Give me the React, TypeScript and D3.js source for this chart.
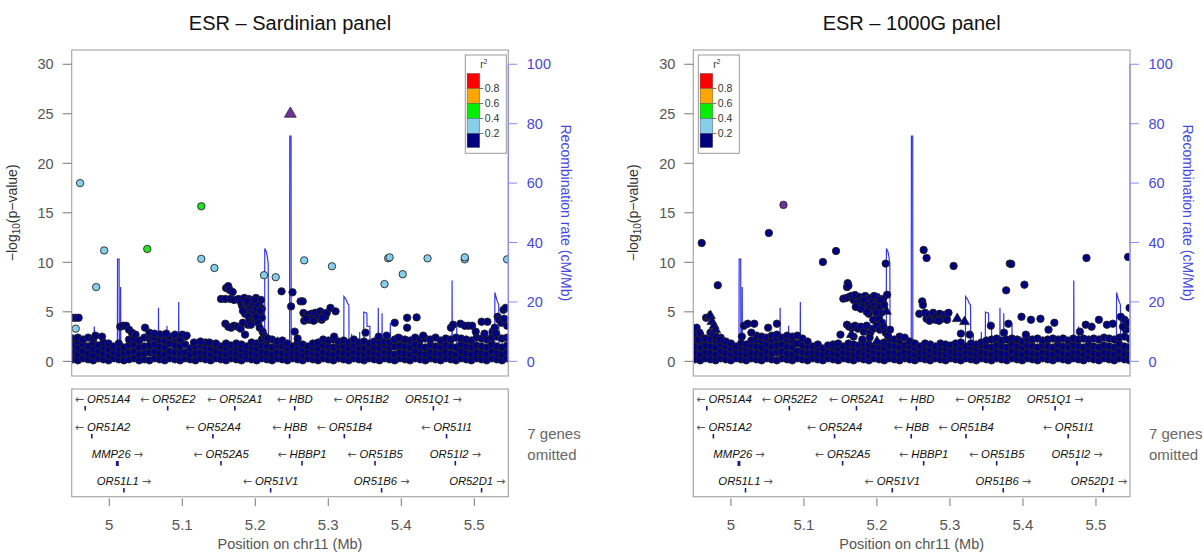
import React from 'react';
import * as d3 from 'd3';

const W = 1204, H = 555;
const DOMAIN: [number, number] = [4.9485, 5.5466];
const xTicks = [5, 5.1, 5.2, 5.3, 5.4, 5.5];
const yTicks = [0, 5, 10, 15, 20, 25, 30];
const recTicks = [0, 20, 40, 60, 80, 100];
const legendBreaks = ['0.8', '0.6', '0.4', '0.2'];
const legendColors = ['#FF0000', '#FFA500', '#00EE00', '#87CEEB', '#000080'];
const titles = ['ESR \u2013 Sardinian panel', 'ESR \u2013 1000G panel'];

// recombination rate (cM/Mb) by position (Mb)
const recombRate: [number, number][] = [
  [4.9485,1.2],[4.960,0.8],[4.970,1.5],[4.978,1.0],[4.9795,11.7],[4.9805,1.0],[4.995,1.6],[5.005,0.8],
  [5.0110,0.9],[5.0113,34.4],[5.0134,34.4],[5.0137,1.5],[5.0152,1.5],[5.0155,25],[5.0158,1.2],[5.030,2.0],
  [5.045,1.0],[5.060,1.4],[5.0672,1.2],[5.0674,18],[5.0677,1.0],[5.0788,1.0],[5.079,12],[5.0793,1.1],
  [5.0948,1.2],[5.0951,20],[5.0954,1.0],[5.110,1.8],[5.130,1.0],[5.150,1.3],[5.170,0.8],[5.190,1.5],
  [5.205,1.0],[5.2128,1.2],[5.2130,38],[5.2150,37],[5.2166,35],[5.2177,33],[5.2180,1.5],[5.2245,1.5],
  [5.2248,8.4],[5.2252,1.5],[5.2305,1.2],[5.2308,8.4],[5.2312,1.0],[5.240,1.2],[5.2470,1.0],[5.2472,75.8],
  [5.2490,75.8],[5.2492,1.0],[5.260,1.5],[5.280,0.8],[5.300,1.6],[5.315,1.0],[5.3212,1.2],[5.3214,21.8],
  [5.3240,21.0],[5.3266,19.4],[5.3282,19.0],[5.3285,1.2],[5.3318,1.0],[5.332,9.3],[5.3323,1.0],[5.3428,1.0],
  [5.343,9.9],[5.3433,1.2],[5.3484,1.0],[5.3486,16.6],[5.3528,16.2],[5.3531,11.8],[5.3570,11.8],[5.3573,1.2],
  [5.3683,1.0],[5.3685,18],[5.3688,1.2],[5.3735,1.1],[5.3737,16.2],[5.374,1.0],[5.3848,1.2],[5.385,12.9],
  [5.3853,1.0],[5.3968,1.0],[5.397,8.4],[5.3973,1.2],[5.4128,1.0],[5.413,7.3],[5.4133,1.0],[5.430,1.5],
  [5.450,1.0],[5.4694,1.2],[5.4696,27.2],[5.4699,1.0],[5.4758,1.0],[5.476,11.7],[5.4763,1.2],[5.500,1.5],
  [5.520,1.0],[5.5280,1.2],[5.5282,23.2],[5.5308,20.7],[5.5335,19.0],[5.5338,1.2],[5.5438,1.0],[5.544,8.4],
  [5.5443,1.0],[5.5466,1.2]
];

// genes: name, position (Mb), row, direction, width (Mb)
const geneNames = ['OR51A4','OR52E2','OR52A1','HBD','OR51B2','OR51Q1','OR51A2','OR52A4','HBB','OR51B4','OR51I1','MMP26','OR52A5','HBBP1','OR51B5','OR51I2','OR51L1','OR51V1','OR51B6','OR52D1'];
const genePos = [4.967,5.080,5.172,5.254,5.345,5.444,4.976,5.142,5.247,5.322,5.462,5.011,5.153,5.264,5.364,5.474,5.020,5.221,5.373,5.510];
const geneRow = [0,0,0,0,0,0,1,1,1,1,1,2,2,2,2,2,3,3,3,3];
const geneDir = [-1,-1,-1,-1,-1,1,-1,-1,-1,-1,-1,1,-1,-1,-1,1,1,-1,1,1];
const geneWidth = [0,0,0,0,0,0,0,0,0,0,0,0.004,0,0,0,0,0,0,0,0];

// ---- Sardinian panel ----
const sardBand: [number, number[]][] = [
  [4.950,[0.2,0.9,1.6,2.3]],[4.957,[0.1,0.7,1.3,2.0,2.4]],[4.964,[0.3,1.0,1.7,2.2]],[4.971,[0.2,0.8,1.5,2.4]],
  [4.978,[0.1,0.6,1.2,1.9,2.3]],[4.985,[0.3,1.0,1.6]],[4.992,[0.2,0.8,1.4,1.9]],[4.999,[0.1,0.6,1.2,1.8]],
  [5.006,[0.3,0.9,1.5]],[5.013,[0.2,0.7,1.3,1.8]],[5.020,[0.1,0.8,1.4]],[5.027,[0.2,0.9,1.6,2.2]],
  [5.034,[0.3,1.0,1.7,2.3]],[5.041,[0.1,0.7,1.4,2.1]],[5.048,[0.2,0.8,1.5,2.4]],[5.055,[0.1,0.9,1.6,2.3,2.6]],
  [5.062,[0.3,1.0,1.7,2.4]],[5.069,[0.2,0.8,1.5,2.2,2.7]],[5.076,[0.1,0.7,1.4,2.1,2.6]],[5.083,[0.3,1.0,1.8,2.5]],
  [5.090,[0.2,0.9,1.6,2.3,2.6]],[5.097,[0.1,0.8,1.5,2.2]],[5.104,[0.3,0.9,1.7,2.5]],[5.111,[0.2,0.7,1.3]],
  [5.118,[0.1,0.8,1.5]],[5.125,[0.3,0.9,1.6]],[5.132,[0.2,0.8,1.4,1.9]],[5.139,[0.1,0.7,1.3,1.8]],
  [5.146,[0.3,1.0,1.6]],[5.153,[0.2,0.8,1.5]],[5.160,[0.1,0.7,1.3,1.8]],[5.167,[0.3,0.9,1.6]],
  [5.174,[0.2,0.8,1.4,1.8]],[5.181,[0.1,0.6,1.2,1.7]],[5.188,[0.3,0.9,1.5]],[5.195,[0.2,0.8,1.4,1.9]],
  [5.202,[0.1,0.7,1.3,1.8]],[5.209,[0.3,0.9,1.6,2.2]],[5.216,[0.2,0.8,1.5,2.1]],[5.223,[0.1,0.7,1.4,2.2]],
  [5.230,[0.3,0.9,1.6,2.0]],[5.237,[0.2,0.8,1.5,2.1]],[5.244,[0.1,0.7,1.3,1.8]],[5.251,[0.3,0.9,1.5]],
  [5.258,[0.2,0.8,1.4,1.9]],[5.265,[0.1,0.6,1.2,1.7]],[5.272,[0.3,0.9,1.5]],[5.279,[0.2,0.8,1.4,1.8]],
  [5.286,[0.1,0.7,1.3,1.9]],[5.293,[0.3,0.9,1.6,2.2]],[5.300,[0.2,0.8,1.5,2.1]],[5.307,[0.1,0.7,1.4,2.2]],
  [5.314,[0.3,0.9,1.6,2.0]],[5.321,[0.2,0.8,1.5,2.1]],[5.328,[0.1,0.7,1.3,1.9]],[5.335,[0.3,0.9,1.6,2.2]],
  [5.342,[0.2,0.8,1.4,1.9]],[5.349,[0.1,0.7,1.3,2.0]],[5.356,[0.3,0.9,1.5,1.8]],[5.363,[0.2,0.8,1.4,2.0]],
  [5.370,[0.1,0.7,1.3,1.9]],[5.377,[0.3,0.9,1.6,2.0]],[5.384,[0.2,0.8,1.4,1.9]],[5.391,[0.1,0.7,1.5,2.2]],
  [5.398,[0.3,0.9,1.6,2.3]],[5.405,[0.2,0.8,1.5,2.2]],[5.412,[0.1,0.7,1.4,2.1]],[5.419,[0.3,1.0,1.7,2.4]],
  [5.426,[0.2,0.8,1.5,2.2]],[5.433,[0.1,0.7,1.4,2.3]],[5.440,[0.3,0.9,1.6,2.2]],[5.447,[0.2,0.8,1.5,2.4]],
  [5.454,[0.1,0.7,1.4,2.1]],[5.461,[0.3,0.9,1.6,2.3]],[5.468,[0.2,0.8,1.5,2.2]],[5.475,[0.1,0.7,1.4,2.4]],
  [5.482,[0.3,1.0,1.7,2.3]],[5.489,[0.2,0.8,1.5,2.2]],[5.496,[0.1,0.7,1.4,2.1]],[5.503,[0.3,0.9,1.6,2.4]],
  [5.510,[0.2,0.8,1.5,2.3]],[5.517,[0.1,0.7,1.4,2.2]],[5.524,[0.3,1.0,1.7,2.4]],[5.531,[0.2,0.8,1.5,2.5]],
  [5.538,[0.1,0.7,1.4,2.3]],[5.545,[0.3,0.9,1.6,2.4]]
];
const sardNavy: [number, number][] = [
  [4.950,4.4],[4.954,4.4],[4.958,4.4],[4.981,2.6],[4.990,2.5],
  [5.015,3.5],[5.019,3.6],[5.023,3.6],[5.027,3.2],[5.031,2.9],[5.036,2.7],
  [5.049,3.4],[5.055,2.9],[5.062,2.8],[5.070,2.7],[5.078,2.8],[5.090,2.7],[5.100,2.7],[5.106,2.6],
  [5.116,1.9],[5.125,2.0],[5.137,1.9],[5.146,1.8],
  [5.153,6.3],[5.159,6.3],[5.160,7.4],[5.163,7.6],[5.165,7.2],[5.166,6.3],[5.169,7.0],[5.171,6.2],
  [5.159,3.8],[5.163,3.5],[5.167,3.4],[5.171,3.6],[5.176,3.5],[5.180,3.3],[5.183,3.9],[5.186,2.7],[5.190,3.7],
  [5.177,6.3],[5.180,6.0],[5.182,5.6],[5.185,6.4],[5.187,5.8],[5.189,5.2],[5.191,6.3],[5.193,5.5],[5.194,4.9],
  [5.196,6.1],[5.198,5.7],[5.199,5.0],[5.201,6.4],[5.202,5.3],[5.203,4.6],[5.205,6.0],[5.206,5.6],[5.207,4.9],
  [5.208,6.2],[5.209,5.3],[5.209,4.4],[5.186,4.8],[5.191,4.5],[5.197,4.3],[5.200,4.1],[5.204,3.9],[5.188,5.9],
  [5.183,5.1],[5.192,4.0],[5.195,5.9],[5.203,5.8],[5.207,5.1],[5.189,6.1],[5.199,6.2],
  [5.194,3.7],[5.201,4.5],[5.206,3.4],[5.210,3.0],[5.212,2.6],[5.214,2.4],[5.217,2.3],
  [5.236,7.07],[5.249,5.55],[5.251,6.97],[5.254,3.0],[5.262,6.06],[5.265,6.06],[5.258,2.3],
  [5.266,4.88],[5.267,4.1],[5.269,4.6],[5.272,4.7],[5.274,4.2],[5.277,4.8],[5.279,4.4],[5.282,4.9],[5.284,4.3],
  [5.287,4.6],[5.289,5.05],[5.291,4.2],[5.294,4.8],[5.296,4.5],[5.298,4.9],[5.270,4.3],[5.280,4.1],[5.292,4.4],
  [5.303,5.4],[5.310,5.05],[5.308,2.5],
  [5.351,2.9],[5.369,2.5],[5.380,2.6],[5.391,3.9],[5.408,3.4],[5.408,4.4],[5.421,4.44],[5.396,2.4],[5.430,2.6],
  [5.468,3.4],[5.471,3.7],[5.481,3.8],[5.487,3.6],[5.492,3.6],[5.497,3.6],[5.502,3.0],
  [5.510,4.0],[5.518,4.0],[5.514,2.8],
  [5.525,3.0],[5.528,3.4],[5.532,4.5],[5.534,4.2],[5.537,3.9],[5.540,5.2],[5.543,5.4],[5.545,3.6],[5.541,4.3],[5.530,2.8]
];
const sardSky: [number, number][] = [
  [4.960,18.0],[4.954,3.3],[4.982,7.5],[4.993,11.2],[5.126,10.35],[5.144,9.43],[5.212,8.7],[5.228,8.5],
  [5.267,10.2],[5.305,9.6],[5.377,7.8],[5.382,10.4],[5.384,10.5],[5.402,8.8],[5.436,10.4],[5.487,10.3],
  [5.487,10.5],[5.545,10.3]
];
const sardGreen: [number, number][] = [[5.052,11.35],[5.126,15.66]];
const sardLead: [number, number][] = [[5.248,25.0]];

// ---- 1000G panel ----
const kgBand: [number, number[]][] = [
  [4.951,[0.2,0.8,1.5,2.2,2.8]],[4.958,[0.1,0.7,1.4,2.1,2.7]],[4.965,[0.3,0.9,1.6,2.3]],[4.972,[0.2,0.8,1.5,2.2,2.9]],
  [4.979,[0.1,0.7,1.4,2.1,2.6]],[4.986,[0.3,1.0,1.7,2.4]],[4.993,[0.2,0.8,1.5,2.0]],[5.000,[0.1,0.7,1.3,1.8]],
  [5.007,[0.3,0.9,1.5]],[5.014,[0.2,0.8,1.4,1.8]],[5.021,[0.1,0.7,1.3,1.7]],[5.028,[0.3,0.9,1.6,2.1]],
  [5.035,[0.2,0.8,1.5,2.2,2.6]],[5.042,[0.1,0.7,1.4,2.1,2.5]],[5.049,[0.3,1.0,1.7,2.4]],[5.056,[0.2,0.8,1.5,2.2,2.6]],
  [5.063,[0.1,0.9,1.6,2.3,2.7]],[5.070,[0.3,1.0,1.7,2.4]],[5.077,[0.2,0.8,1.5,2.2,2.6]],[5.084,[0.1,0.7,1.4,2.1,2.5]],
  [5.091,[0.3,1.0,1.8,2.6]],[5.098,[0.2,0.9,1.6,2.3]],[5.105,[0.1,0.8,1.5,2.0]],[5.112,[0.3,0.9,1.5]],
  [5.119,[0.2,0.8,1.4,1.7]],[5.126,[0.1,0.7,1.3]],[5.133,[0.3,0.9,1.6]],[5.140,[0.2,0.8,1.4,1.7]],
  [5.147,[0.1,0.7,1.3,1.8]],[5.154,[0.3,0.9,1.5]],[5.161,[0.2,0.8,1.4,1.8]],[5.168,[0.1,0.7,1.3,1.7]],
  [5.175,[0.3,0.9,1.6]],[5.182,[0.2,0.8,1.4,1.8]],[5.189,[0.1,0.6,1.2,1.7]],[5.196,[0.3,0.9,1.5]],
  [5.203,[0.2,0.8,1.4,1.8]],[5.210,[0.1,0.7,1.3,1.9]],[5.217,[0.3,0.9,1.6,2.3]],[5.224,[0.2,0.8,1.5,2.2]],
  [5.231,[0.1,0.7,1.4,2.1,2.5]],[5.238,[0.3,0.9,1.6,2.4]],[5.245,[0.2,0.8,1.5,2.0]],[5.252,[0.1,0.7,1.3,1.8]],
  [5.259,[0.3,0.9,1.5]],[5.266,[0.2,0.8,1.4,1.8]],[5.273,[0.1,0.6,1.2,1.7]],[5.280,[0.3,0.9,1.5]],
  [5.287,[0.2,0.8,1.4,1.8]],[5.294,[0.1,0.7,1.3,1.7]],[5.301,[0.3,0.9,1.6]],[5.308,[0.2,0.8,1.4,1.8]],
  [5.315,[0.1,0.7,1.3,1.9]],[5.322,[0.3,0.9,1.5]],[5.329,[0.2,0.8,1.4,1.8]],[5.336,[0.1,0.7,1.3,1.7]],
  [5.343,[0.3,0.9,1.6,1.9]],[5.350,[0.2,0.8,1.5,2.1]],[5.357,[0.1,0.7,1.4,2.2]],[5.364,[0.3,0.9,1.6,2.3]],
  [5.371,[0.2,0.8,1.5,2.1]],[5.378,[0.1,0.7,1.4,2.2]],[5.385,[0.3,1.0,1.7,2.3]],[5.392,[0.2,0.8,1.5,2.2]],
  [5.399,[0.1,0.7,1.4,2.0]],[5.406,[0.3,0.9,1.6,2.3]],[5.413,[0.2,0.8,1.5,2.2]],[5.420,[0.1,0.7,1.4,2.3]],
  [5.427,[0.3,0.9,1.6,2.1]],[5.434,[0.2,0.8,1.5,2.2]],[5.441,[0.1,0.7,1.4,2.3]],[5.448,[0.3,1.0,1.7,2.2]],
  [5.455,[0.2,0.8,1.5,2.3]],[5.462,[0.1,0.7,1.4,2.1]],[5.469,[0.3,0.9,1.6,2.3]],[5.476,[0.2,0.8,1.5,2.2]],
  [5.483,[0.1,0.7,1.4,2.3]],[5.490,[0.3,1.0,1.7,2.2]],[5.497,[0.2,0.8,1.5,2.3]],[5.504,[0.1,0.7,1.4,2.2]],
  [5.511,[0.3,0.9,1.6,2.4]],[5.518,[0.2,0.8,1.5,2.3]],[5.525,[0.1,0.7,1.4,2.2]],[5.532,[0.3,1.0,1.7,2.4]],
  [5.539,[0.2,0.8,1.5,2.5]],[5.546,[0.1,0.7,1.4,2.3]]
];
const kgNavy: [number, number][] = [
  [4.960,11.95],[4.982,7.68],[5.052,12.96],[5.126,10.03],[5.144,11.14],[5.212,9.87],[5.214,6.73],[5.264,11.25],
  [5.268,10.44],[5.305,9.63],[5.377,7.17],[5.382,9.87],[5.384,9.83],[5.402,7.74],[5.487,10.44],[5.544,10.54],
  [4.953,3.4],[4.955,2.2],[4.957,2.9],[4.966,4.4],[4.975,2.8],[4.980,2.4],[4.985,2.2],
  [5.015,2.5],[5.018,3.6],[5.023,3.8],[5.032,3.8],[5.028,2.9],[5.051,3.4],[5.063,3.8],
  [5.150,2.7],[5.159,7.5],[5.160,7.9],[5.161,7.64],[5.154,6.33],[5.158,6.4],[5.162,6.5],
  [5.165,6.6],[5.168,6.2],[5.170,6.7],[5.173,5.9],[5.176,6.5],[5.178,6.1],[5.181,5.7],[5.184,6.6],[5.186,6.3],
  [5.188,5.8],[5.190,5.4],[5.192,6.4],[5.194,6.0],[5.196,5.6],[5.198,5.2],[5.200,6.5],[5.202,6.1],[5.204,5.5],
  [5.206,4.9],[5.208,6.3],[5.210,5.7],[5.189,4.8],[5.195,4.2],[5.199,4.9],[5.203,4.3],[5.207,3.9],[5.186,5.0],
  [5.178,5.3],[5.182,6.2],[5.196,6.6],[5.204,6.2],[5.171,5.5],
  [5.159,3.7],[5.162,3.5],[5.166,3.4],[5.170,3.6],[5.174,3.3],[5.178,3.5],[5.182,3.0],[5.186,3.6],[5.191,2.9],
  [5.195,3.3],[5.200,3.6],[5.204,3.2],[5.209,3.5],[5.168,2.5],[5.180,2.2],[5.190,2.4],
  [5.212,2.9],[5.215,2.6],[5.218,3.2],[5.262,6.06],[5.263,5.7],[5.258,4.8],
  [5.266,4.9],[5.268,4.3],[5.271,4.7],[5.274,4.4],[5.277,4.9],[5.280,4.2],[5.283,4.6],[5.286,4.8],[5.289,4.3],
  [5.292,4.7],[5.295,4.5],[5.298,4.9],[5.272,4.1],[5.285,4.1],[5.296,4.2],
  [5.315,2.8],[5.327,2.7],[5.356,3.6],[5.374,2.9],[5.380,3.8],[5.398,4.5],[5.404,2.7],[5.411,4.2],[5.424,4.3],
  [5.435,3.2],[5.443,3.9],[5.478,3.0],[5.486,3.7],[5.494,3.5],[5.504,4.2],[5.515,3.7],[5.523,3.8],
  [5.534,4.5],[5.539,4.2],[5.541,3.2],[5.546,5.4],[5.537,3.5],[5.544,3.9]
];
const kgNavyTri: [number, number][] = [
  [4.970,4.5],[4.972,4.6],[4.974,4.0],[4.977,3.6],[4.979,3.2],[5.165,2.7],[5.213,5.05],[5.200,2.0],[5.310,4.3],[5.320,4.0]
];
const kgLead: [number, number][] = [[5.072,15.8]];

type Mark = { p: number; v: number; fill: string; shape: 'c' | 't'; size: number };

const band = (b: [number, number[]][]) => b.flatMap(([p, vs]) => vs.map((v) => [p, v] as [number, number]));
const marks = (pts: [number, number][], fill: string, shape: 'c' | 't', size: number): Mark[] =>
  pts.map(([p, v]) => ({ p, v, fill, shape, size }));

const panels = [
  {
    title: titles[0], x0: 71.7, x1: 508.3, legendLeft: false,
    marks: [
      ...marks(band(sardBand), '#000080', 'c', 3.7),
      ...marks(sardNavy, '#000080', 'c', 3.7),
      ...marks(sardSky, '#87CEEB', 'c', 3.7),
      ...marks(sardGreen, '#22E622', 'c', 3.7),
      ...marks(sardLead, '#7030A0', 't', 60),
    ],
  },
  {
    title: titles[1], x0: 693.3, x1: 1130, legendLeft: true,
    marks: [
      ...marks(band(kgBand), '#000080', 'c', 3.7),
      ...marks(kgNavy, '#000080', 'c', 3.7),
      ...marks(kgNavyTri, '#000080', 't', 42),
      ...marks(kgLead, '#7030A0', 'c', 3.7),
    ],
  },
];

let canvas: HTMLCanvasElement | null = null;
function measure(text: string, font: string) {
  if (!canvas) canvas = document.createElement('canvas');
  const ctx = canvas.getContext('2d')!;
  ctx.font = font;
  return ctx.measureText(text).width;
}

const FONT = '"Liberation Sans", Arial, Helvetica, sans-serif';
const ARROW_FONT = '"DejaVu Sans", sans-serif';
const TOP = 50, BOT = 376;
const GTOP = 389, GBOT = 496.7;
const rowLabelY = [403.3, 430.7, 458, 485];
const rowMarkY = [406, 434, 461, 488];

function Panel({ cfg, idx }: { cfg: typeof panels[number]; idx: number }) {
  const { x0, x1 } = cfg;
  const x = d3.scaleLinear().domain(DOMAIN).range([x0, x1]);
  const y = d3.scaleLinear().domain([-1.48, 31.44]).range([BOT, TOP]);
  const yr = d3.scaleLinear().domain([0, 100]).range([y(0), y(30)]);
  const line = d3.line<[number, number]>().x((d) => x(d[0])).y((d) => yr(d[1]))(recombRate) || '';
  const clipId = `clip${idx}`;
  const gclipId = `gclip${idx}`;
  const recColor = '#4646e6';
  const lx = cfg.legendLeft ? x0 + 5 : x1 - 43;
  const cy = (y(0) + y(30)) / 2;
  const labelFontItalic = `italic 11.3px ${FONT}`;
  const arrowFont = `11px ${ARROW_FONT}`;
  return (
    <g>
      <text x={(x0 + x1) / 2} y={30} textAnchor="middle" fontSize={20} fill="#111">{cfg.title}</text>
      <defs>
        <clipPath id={clipId}><rect x={x0} y={TOP} width={x1 - x0} height={BOT - TOP} /></clipPath>
        <clipPath id={gclipId}><rect x={x0} y={GTOP} width={x1 - x0} height={GBOT - GTOP} /></clipPath>
      </defs>
      <g clipPath={`url(#${clipId})`}>
        <path d={line} fill="none" stroke="#3535ee" strokeWidth={1.2} />
        {cfg.marks.map((m, i) =>
          m.shape === 'c' ? (
            <circle key={i} cx={x(m.p)} cy={y(m.v)} r={m.size} fill={m.fill} stroke="#262626" strokeWidth={0.9} />
          ) : (
            <path key={i} transform={`translate(${x(m.p)},${y(m.v)})`} d={d3.symbol(d3.symbolTriangle, m.size)() || ''} fill={m.fill} stroke="#262626" strokeWidth={0.8} />
          )
        )}
      </g>
      <rect x={x0} y={TOP} width={x1 - x0} height={BOT - TOP} fill="none" stroke="#a8a8a8" strokeWidth={1.2} />
      {/* left axis */}
      {yTicks.map((t) => (
        <g key={t}>
          <line x1={x0 - 9} x2={x0} y1={y(t)} y2={y(t)} stroke="#777" strokeWidth={1} />
          <text x={x0 - 18} y={y(t)} dy="0.36em" textAnchor="end" fontSize={14.5} fill="#555">{t}</text>
        </g>
      ))}
      <text transform={`translate(${x0 - 55},${cy}) rotate(-90)`} textAnchor="middle" fontSize={14} fill="#333">
        {'\u2212log'}<tspan fontSize={10} dy={3}>10</tspan><tspan dy={-3}>{'(p\u2212value)'}</tspan>
      </text>
      {/* right axis */}
      <line x1={x1} x2={x1} y1={yr(0)} y2={yr(100)} stroke="#8a8af0" strokeWidth={1.2} />
      {recTicks.map((t) => (
        <g key={t}>
          <line x1={x1} x2={x1 + 9} y1={yr(t)} y2={yr(t)} stroke="#8a8af0" strokeWidth={1} />
          <text x={x1 + 18.5} y={yr(t)} dy="0.36em" textAnchor="start" fontSize={14.5} fill={recColor}>{t}</text>
        </g>
      ))}
      <text transform={`translate(${x1 + 53},${cy}) rotate(90)`} textAnchor="middle" fontSize={14} fill={recColor}>
        Recombination rate (cM/Mb)
      </text>
      {/* legend */}
      <g>
        <rect x={lx} y={55} width={41} height={98.3} fill="#fff" stroke="#999" strokeWidth={1} />
        <text x={lx + 18.5} y={68} textAnchor="middle" fontSize={10} fill="#333">
          r<tspan fontSize={7} dy={-4}>2</tspan>
        </text>
        {legendColors.map((c, i) => (
          <rect key={c} x={lx + 1.8} y={73.5 + i * 15} width={12.6} height={i === 4 ? 14 : 15} fill={c} stroke="#444" strokeWidth={0.4} />
        ))}
        {legendBreaks.map((b, i) => (
          <g key={b}>
            <line x1={lx + 14.4} x2={lx + 18} y1={88.5 + i * 15} y2={88.5 + i * 15} stroke="#555" strokeWidth={0.8} />
            <text x={lx + 19.5} y={88.5 + i * 15} dy="0.36em" fontSize={10.5} fill="#333">{b}</text>
          </g>
        ))}
      </g>
      {/* genes */}
      <rect x={x0} y={GTOP} width={x1 - x0} height={GBOT - GTOP} fill="none" stroke="#a8a8a8" strokeWidth={1.2} />
      <g clipPath={`url(#${gclipId})`}>
        {geneNames.map((name, i) => {
          const gx = x(genePos[i]);
          const left1 = geneDir[i] < 0;
          const arrow = '\u2190';
          const arrowR = '\u2192';
          const gap = 3;
          const wName = measure(name, labelFontItalic);
          const wArrow = measure(left1 ? arrow : arrowR, arrowFont);
          const w = wName + wArrow + gap;
          let left = gx - w / 2;
          if (left < x0 + 3) left = x0 + 3;
          if (left + w > x1 - 3) left = x1 - 3 - w;
          const gw = Math.max(1.6, x(genePos[i] + geneWidth[i]) - gx);
          const row = geneRow[i];
          const ly = rowLabelY[row];
          return (
            <g key={name}>
              {left1 ? (
                <>
                  <text x={left} y={ly} fontSize={11} fill="#555" fontFamily={ARROW_FONT}>{arrow}</text>
                  <text x={left + wArrow + gap} y={ly} fontSize={11.3} fill="#111" fontStyle="italic">{name}</text>
                </>
              ) : (
                <>
                  <text x={left} y={ly} fontSize={11.3} fill="#111" fontStyle="italic">{name}</text>
                  <text x={left + wName + gap} y={ly} fontSize={11} fill="#555" fontFamily={ARROW_FONT}>{arrowR}</text>
                </>
              )}
              <rect x={gx - gw / 2} y={rowMarkY[row]} width={gw} height={geneWidth[i] > 0 ? 5 : 4.5} fill="#1a1a8a" />
            </g>
          );
        })}
      </g>
      <text x={x1 + 19} y={433.5} dy="0.36em" fontSize={15} fill="#666">7 genes</text>
      <text x={x1 + 19} y={454.5} dy="0.36em" fontSize={15} fill="#666">omitted</text>
      {xTicks.map((t) => (
        <g key={t}>
          <line x1={x(t)} x2={x(t)} y1={GBOT + 1.5} y2={506} stroke="#777" strokeWidth={1} />
          <text x={x(t)} y={525} dy="0.36em" textAnchor="middle" fontSize={15} fill="#555">{t}</text>
        </g>
      ))}
      <text x={(x0 + x1) / 2} y={544} dy="0.36em" textAnchor="middle" fontSize={14.5} fill="#555">Position on chr11 (Mb)</text>
    </g>
  );
}

export default function App() {
  return (
    <svg width={W} height={H} viewBox={`0 0 ${W} ${H}`} style={{ position: 'absolute', left: 0, top: 0, background: '#fff' }} fontFamily={FONT}>
      <rect x={0} y={0} width={W} height={H} fill="#fff" />
      {panels.map((p, i) => (
        <Panel key={i} cfg={p} idx={i} />
      ))}
    </svg>
  );
}
